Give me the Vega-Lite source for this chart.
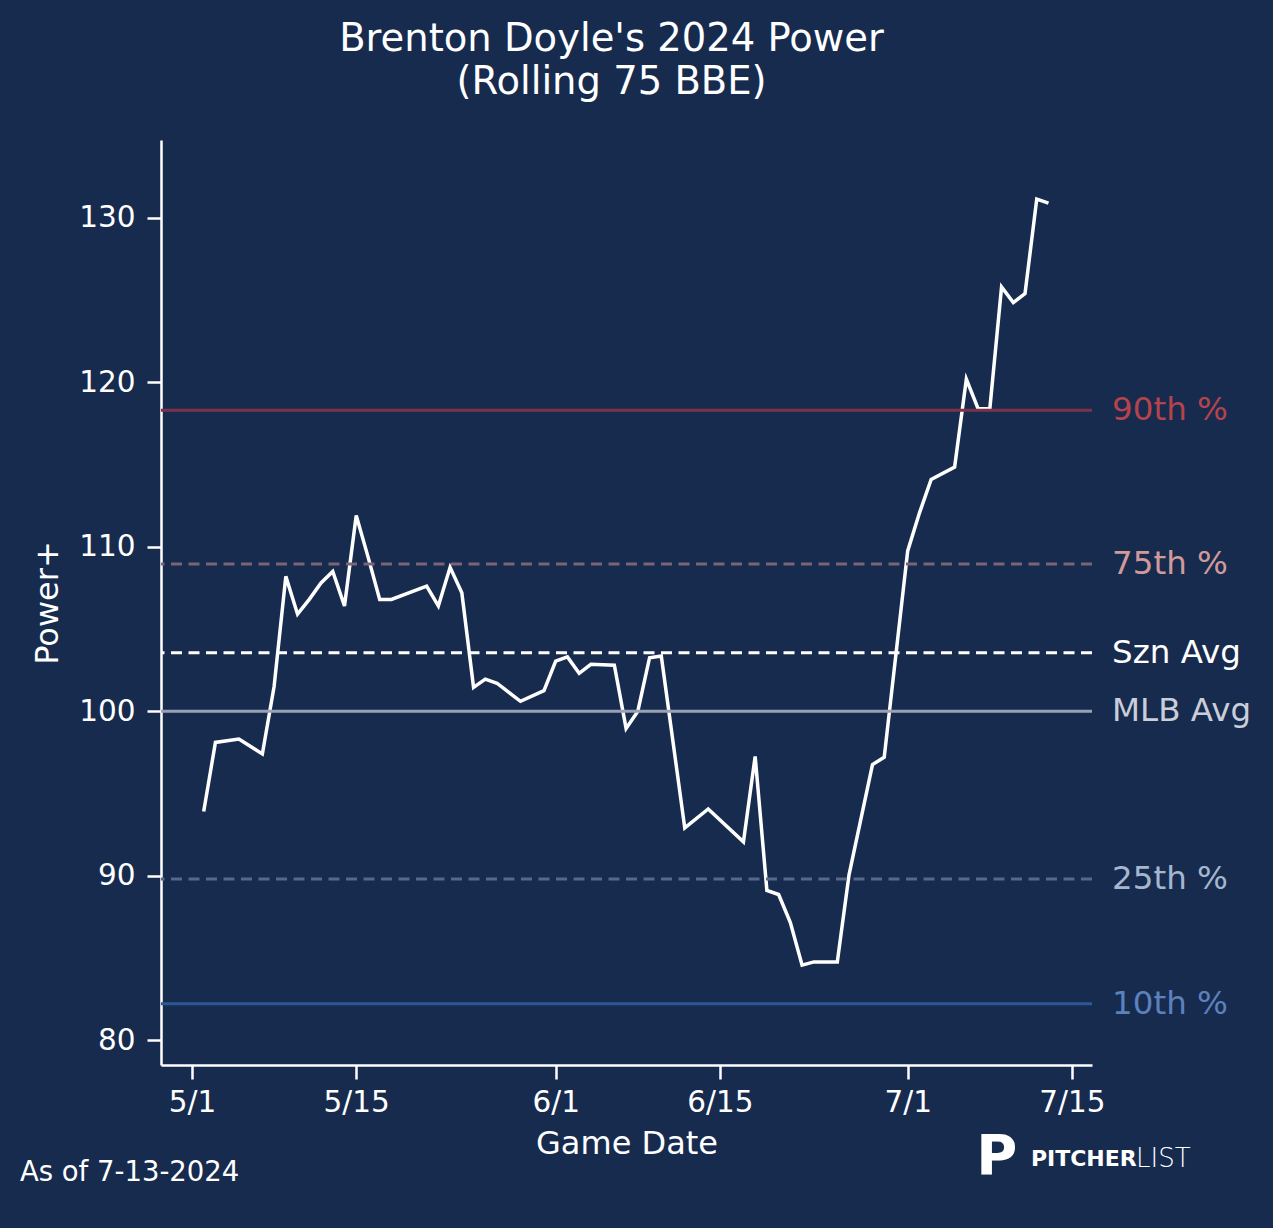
{
  "$schema": "https://vega.github.io/schema/vega-lite/v6.json",
  "description": "Brenton Doyle rolling Power+ with percentile reference lines",
  "width": 931,
  "height": 925,
  "autosize": {"type": "none"},
  "padding": {"left": 161, "top": 140, "right": 181, "bottom": 163},
  "background": "#172b4f",
  "title": {
    "text": ["Brenton Doyle's 2024 Power", "(Rolling 75 BBE)"],
    "font": "DejaVu Sans",
    "fontSize": 38.5,
    "fontWeight": "normal",
    "color": "#ffffff",
    "anchor": "middle",
    "dx": -15,
    "lineHeight": 43,
    "offset": 38
  },
  "config": {
    "view": {"stroke": null},
    "font": "DejaVu Sans",
    "axis": {
      "grid": false,
      "domainColor": "#ffffff",
      "domainWidth": 2.5,
      "tickColor": "#ffffff",
      "tickWidth": 2.5,
      "tickSize": 14,
      "labelColor": "#ffffff",
      "labelFont": "DejaVu Sans",
      "labelFontSize": 29.5,
      "titleColor": "#ffffff",
      "titleFont": "DejaVu Sans",
      "titleFontSize": 32,
      "titleFontWeight": "normal"
    }
  },
  "datasets": {
    "power": [
      {"date": "2024-05-02", "power": 93.9},
      {"date": "2024-05-03", "power": 98.1},
      {"date": "2024-05-05", "power": 98.3},
      {"date": "2024-05-07", "power": 97.4},
      {"date": "2024-05-08", "power": 101.5},
      {"date": "2024-05-09", "power": 108.2},
      {"date": "2024-05-10", "power": 105.9},
      {"date": "2024-05-11", "power": 106.8},
      {"date": "2024-05-12", "power": 107.8},
      {"date": "2024-05-13", "power": 108.5},
      {"date": "2024-05-14", "power": 106.4},
      {"date": "2024-05-15", "power": 111.9},
      {"date": "2024-05-16", "power": 109.4},
      {"date": "2024-05-17", "power": 106.8},
      {"date": "2024-05-18", "power": 106.8},
      {"date": "2024-05-21", "power": 107.6},
      {"date": "2024-05-22", "power": 106.4},
      {"date": "2024-05-23", "power": 108.75},
      {"date": "2024-05-24", "power": 107.2},
      {"date": "2024-05-25", "power": 101.45},
      {"date": "2024-05-26", "power": 101.95},
      {"date": "2024-05-27", "power": 101.7},
      {"date": "2024-05-29", "power": 100.6},
      {"date": "2024-05-31", "power": 101.25},
      {"date": "2024-06-01", "power": 103.05},
      {"date": "2024-06-02", "power": 103.3},
      {"date": "2024-06-03", "power": 102.3},
      {"date": "2024-06-04", "power": 102.85},
      {"date": "2024-06-06", "power": 102.8},
      {"date": "2024-06-07", "power": 98.95},
      {"date": "2024-06-08", "power": 100.0},
      {"date": "2024-06-09", "power": 103.25},
      {"date": "2024-06-10", "power": 103.35},
      {"date": "2024-06-12", "power": 92.9},
      {"date": "2024-06-14", "power": 94.05},
      {"date": "2024-06-17", "power": 92.05},
      {"date": "2024-06-18", "power": 97.25},
      {"date": "2024-06-19", "power": 89.1},
      {"date": "2024-06-20", "power": 88.85},
      {"date": "2024-06-21", "power": 87.15},
      {"date": "2024-06-22", "power": 84.55},
      {"date": "2024-06-23", "power": 84.75},
      {"date": "2024-06-25", "power": 84.75},
      {"date": "2024-06-26", "power": 90.05},
      {"date": "2024-06-28", "power": 96.75},
      {"date": "2024-06-29", "power": 97.2},
      {"date": "2024-07-01", "power": 109.75},
      {"date": "2024-07-02", "power": 112.05},
      {"date": "2024-07-03", "power": 114.1},
      {"date": "2024-07-05", "power": 114.85},
      {"date": "2024-07-06", "power": 120.2},
      {"date": "2024-07-07", "power": 118.4},
      {"date": "2024-07-08", "power": 118.4},
      {"date": "2024-07-09", "power": 125.8},
      {"date": "2024-07-10", "power": 124.85},
      {"date": "2024-07-11", "power": 125.4},
      {"date": "2024-07-12", "power": 131.15},
      {"date": "2024-07-13", "power": 130.9}
    ],
    "refs": [
      {"label": "90th %", "value": 118.3},
      {"label": "75th %", "value": 108.95},
      {"label": "Szn Avg", "value": 103.55},
      {"label": "MLB Avg", "value": 100.0},
      {"label": "25th %", "value": 89.8},
      {"label": "10th %", "value": 82.2}
    ]
  },
  "resolve": {"scale": {"color": "independent"}},
  "layer": [
    {
      "data": {"name": "power"},
      "mark": {"type": "line", "color": "#ffffff", "strokeWidth": 3.5},
      "encoding": {
        "x": {
          "field": "date",
          "type": "temporal",
          "title": "Game Date",
          "scale": {
            "type": "utc",
            "domain": [
              {"year": 2024, "month": 4, "date": 28, "hours": 8, "minutes": 40, "utc": true},
              {"year": 2024, "month": 7, "date": 16, "hours": 17, "utc": true}
            ]
          },
          "axis": {
            "values": [
              {"year": 2024, "month": 5, "date": 1, "utc": true},
              {"year": 2024, "month": 5, "date": 15, "utc": true},
              {"year": 2024, "month": 6, "date": 1, "utc": true},
              {"year": 2024, "month": 6, "date": 15, "utc": true},
              {"year": 2024, "month": 7, "date": 1, "utc": true},
              {"year": 2024, "month": 7, "date": 15, "utc": true}
            ],
            "labelExpr": "utcFormat(datum.value, '%-m/%-d')",
            "labelPadding": 9,
            "titlePadding": 12
          }
        },
        "y": {
          "field": "power",
          "type": "quantitative",
          "title": "Power+",
          "scale": {"domain": [78.48, 134.74], "nice": false, "zero": false},
          "axis": {"values": [80, 90, 100, 110, 120, 130], "labelPadding": 12, "titlePadding": 14}
        }
      }
    },
    {
      "data": {"name": "refs"},
      "mark": {"type": "rule", "strokeWidth": 3},
      "encoding": {
        "y": {"field": "value", "type": "quantitative"},
        "color": {
          "field": "label",
          "type": "nominal",
          "legend": null,
          "scale": {
            "domain": ["90th %", "75th %", "Szn Avg", "MLB Avg", "25th %", "10th %"],
            "range": ["#7c3349", "#7a6478", "#ffffff", "#9aa1b3", "#56698b", "#2c5896"]
          }
        },
        "strokeDash": {
          "field": "label",
          "type": "nominal",
          "legend": null,
          "scale": {
            "domain": ["90th %", "75th %", "Szn Avg", "MLB Avg", "25th %", "10th %"],
            "range": [[1, 0], [11, 6.5], [11, 6.5], [1, 0], [11, 6.5], [1, 0]]
          }
        }
      }
    },
    {
      "data": {"name": "refs"},
      "mark": {"type": "text", "align": "left", "baseline": "middle", "fontSize": 32.5, "font": "DejaVu Sans"},
      "encoding": {
        "x": {"datum": {"year": 2024, "month": 7, "date": 18, "hours": 10, "utc": true}, "type": "temporal"},
        "y": {"field": "value", "type": "quantitative"},
        "text": {"field": "label"},
        "color": {
          "field": "label",
          "type": "nominal",
          "legend": null,
          "scale": {
            "domain": ["90th %", "75th %", "Szn Avg", "MLB Avg", "25th %", "10th %"],
            "range": ["#b5434b", "#d19a9a", "#ffffff", "#c9ced9", "#a5b6cf", "#5b82bc"]
          }
        }
      }
    },
    {
      "data": {"values": [{}]},
      "mark": {"type": "text", "align": "left", "baseline": "middle", "fontSize": 27.5, "font": "DejaVu Sans", "color": "#ffffff"},
      "encoding": {
        "x": {"datum": {"year": 2024, "month": 4, "date": 16, "hours": 8, "utc": true}, "type": "temporal"},
        "y": {"datum": 71.9, "type": "quantitative"},
        "text": {"value": "As of 7-13-2024"}
      }
    },
    {
      "data": {"values": [{}]},
      "mark": {"type": "text", "align": "center", "baseline": "middle", "fontSize": 56, "fontWeight": "bold", "font": "DejaVu Sans", "color": "#ffffff"},
      "encoding": {
        "x": {"datum": {"year": 2024, "month": 7, "date": 8, "hours": 14, "utc": true}, "type": "temporal"},
        "y": {"datum": 72.9, "type": "quantitative"},
        "text": {"value": "P"}
      }
    },
    {
      "data": {"values": [{}]},
      "mark": {"type": "text", "align": "left", "baseline": "middle", "fontSize": 22, "fontWeight": "bold", "font": "DejaVu Sans", "color": "#ffffff"},
      "encoding": {
        "x": {"datum": {"year": 2024, "month": 7, "date": 11, "hours": 12, "utc": true}, "type": "temporal"},
        "y": {"datum": 72.76, "type": "quantitative"},
        "text": {"value": "PITCHER"}
      }
    },
    {
      "data": {"values": [{}]},
      "mark": {"type": "text", "align": "left", "baseline": "middle", "fontSize": 26, "fontWeight": 200, "font": "DejaVu Sans", "color": "#ffffff"},
      "encoding": {
        "x": {"datum": {"year": 2024, "month": 7, "date": 20, "hours": 11, "utc": true}, "type": "temporal"},
        "y": {"datum": 72.76, "type": "quantitative"},
        "text": {"value": "LIST"}
      }
    }
  ]
}
